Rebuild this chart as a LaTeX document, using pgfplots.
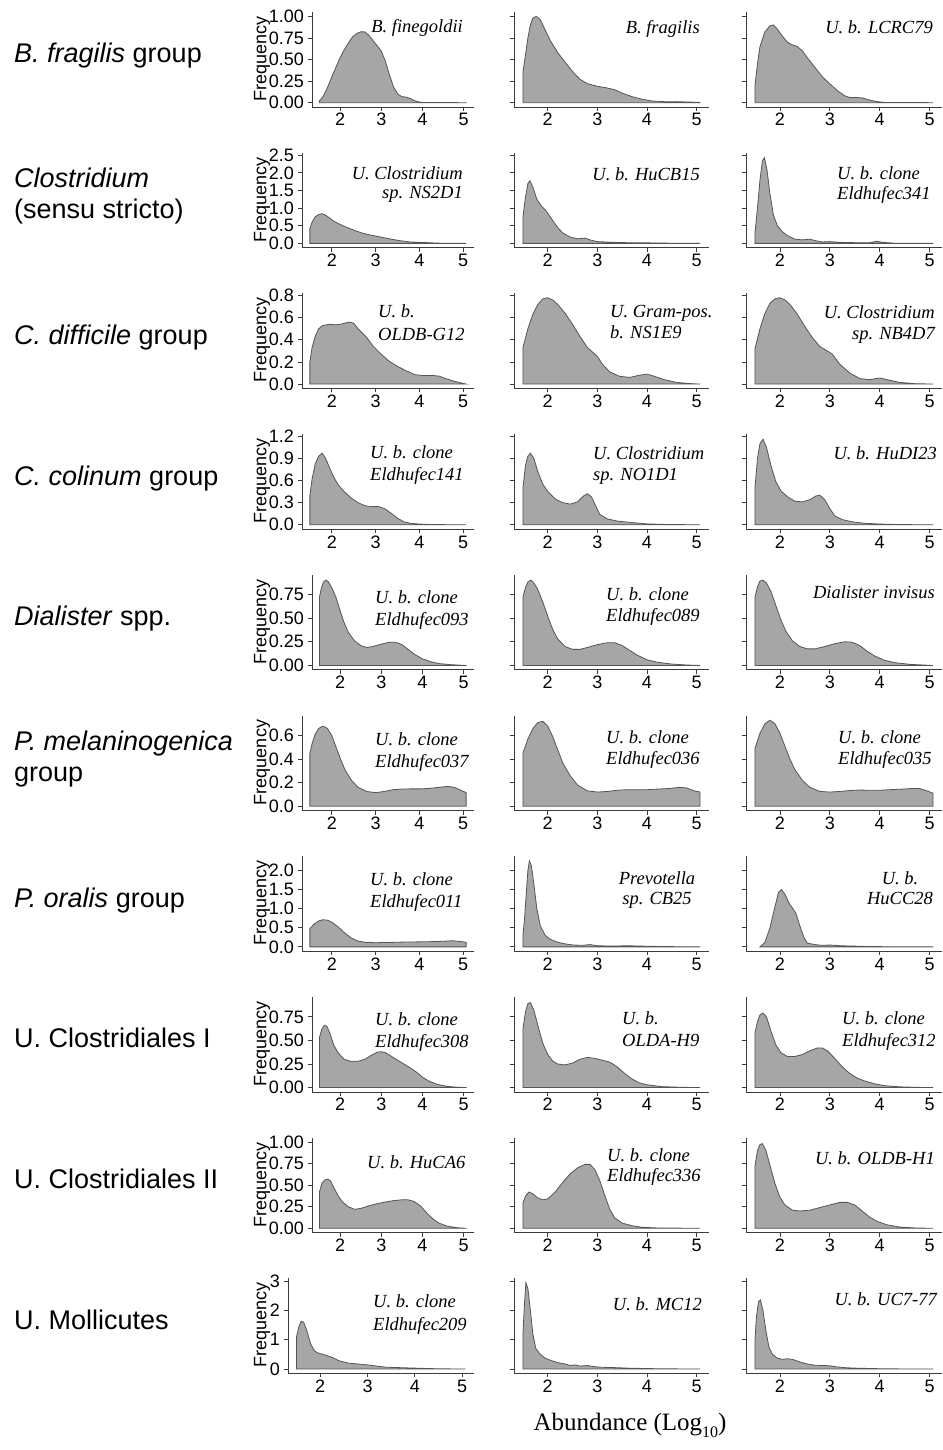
\documentclass[border=0pt]{standalone}
\usepackage{pgfplots}
\pgfplotsset{compat=1.18}
\usepackage{fontspec}
\setmainfont{Liberation Sans}
\newfontfamily\serif{Liberation Serif}
\definecolor{fillc}{RGB}{166,166,166}
\definecolor{linec}{RGB}{85,85,85}
\definecolor{axc}{RGB}{60,60,60}
\newcommand\tickf{\fontsize{18}{18}\selectfont}
\newcommand\titf{\serif\itshape\fontsize{18.5}{18.5}\selectfont}
\newcommand\rowf{\fontsize{27}{27}\selectfont}
\pgfplotsset{
 dens/.style={scale only axis, height=95pt, xmin=1.32, xmax=5.25,
   axis x line=bottom, axis y line=left,
   axis line style={-, line width=0.8pt, draw=axc},
   xtick={2,3,4,5}, tick align=outside, major tick length=4pt,
   tick style={line width=0.8pt, draw=axc},
   tick label style={font=\tickf, inner sep=0pt},
   xticklabel style={anchor=base, yshift=-15pt},
   yticklabel style={anchor=east, xshift=-4pt},
   /pgf/number format/assume math mode=true,
   anchor=south west, clip=false},
 c1/.style={dens},
 c2/.style={dens, at={(514pt,-#1pt)}, width=195pt, yticklabels={}},
 c3/.style={dens, at={(746pt,-#1pt)}, width=196pt, yticklabels={}},
 dplot/.style={fill=fillc, draw=linec, line width=0.8pt},
 r1/.style={ymin=-0.05, ymax=1.05, ytick={0,0.25,0.5,0.75,1}},
 r2/.style={ymin=-0.1225, ymax=2.5725, ytick={0,0.5,1,1.5,2,2.5}},
 r3/.style={ymin=-0.039, ymax=0.819, ytick={0,0.2,0.4,0.6,0.8}},
 r4/.style={ymin=-0.0585, ymax=1.2285, ytick={0,0.3,0.6,0.9,1.2}},
 r5/.style={ymin=-0.0455, ymax=0.9555, ytick={0,0.25,0.5,0.75}},
 r6/.style={ymin=-0.03665, ymax=0.76965, ytick={0,0.2,0.4,0.6}},
 r7/.style={ymin=-0.113, ymax=2.373, ytick={0,0.5,1,1.5,2}},
 r8/.style={ymin=-0.04575, ymax=0.96075, ytick={0,0.25,0.5,0.75}},
 r9/.style={ymin=-0.05, ymax=1.05, ytick={0,0.25,0.5,0.75,1}},
 r10/.style={ymin=-0.1475, ymax=3.0975, ytick={0,1,2,3}},
}
\begin{document}
\begin{tikzpicture}
\useasboundingbox (0,0) rectangle (942pt,-1450pt);
% ---------------- Row 1
\begin{axis}[c1, r1, at={(312pt,-107pt)}, width=162pt, yticklabels={0.00,0.25,0.50,0.75,1.00}]
\addplot[dplot] coordinates {(1.5,0.02)(1.6,0.08)(1.7,0.18)(1.8,0.30)(1.9,0.41)(2.0,0.52)(2.1,0.61)(2.2,0.69)(2.3,0.76)(2.4,0.80)(2.5,0.82)(2.6,0.82)(2.7,0.78)(2.8,0.72)(2.9,0.66)(3.0,0.60)(3.1,0.48)(3.2,0.32)(3.3,0.18)(3.4,0.10)(3.5,0.07)(3.6,0.065)(3.7,0.05)(3.8,0.025)(3.9,0.01)(4.0,0.003)(4.5,0.001)(5.07,0.0)} \closedcycle;
\end{axis}
\begin{axis}[c2=107, r1]
\addplot[dplot] coordinates {(1.5,0.35)(1.55,0.55)(1.6,0.75)(1.65,0.9)(1.7,0.98)(1.77,1.0)(1.85,0.96)(1.95,0.84)(2.05,0.72)(2.2,0.58)(2.35,0.47)(2.5,0.36)(2.65,0.27)(2.8,0.22)(3.0,0.19)(3.2,0.17)(3.35,0.15)(3.5,0.11)(3.7,0.07)(3.9,0.04)(4.1,0.02)(4.4,0.01)(4.6,0.012)(4.8,0.008)(5.07,0.003)} \closedcycle;
\end{axis}
\begin{axis}[c3=107, r1]
\addplot[dplot] coordinates {(1.5,0.2)(1.55,0.45)(1.6,0.65)(1.7,0.82)(1.8,0.89)(1.87,0.9)(1.95,0.85)(2.05,0.77)(2.15,0.7)(2.25,0.67)(2.35,0.65)(2.45,0.6)(2.55,0.52)(2.7,0.41)(2.85,0.3)(3.0,0.22)(3.15,0.14)(3.3,0.08)(3.4,0.06)(3.55,0.06)(3.65,0.055)(3.8,0.03)(3.95,0.012)(4.1,0.003)(5.07,0.0)} \closedcycle;
\end{axis}
% ---------------- Row 2
\begin{axis}[c1, r2, at={(302pt,-247.7pt)}, width=172pt, yticklabels={0.0,0.5,1.0,1.5,2.0,2.5}]
\addplot[dplot] coordinates {(1.5,0.42)(1.55,0.6)(1.62,0.75)(1.7,0.82)(1.78,0.84)(1.86,0.8)(1.95,0.72)(2.05,0.63)(2.2,0.53)(2.35,0.45)(2.5,0.38)(2.65,0.31)(2.8,0.26)(3.0,0.21)(3.2,0.16)(3.4,0.11)(3.6,0.07)(3.8,0.04)(4.0,0.03)(4.2,0.02)(4.4,0.008)(4.6,0.002)(5.07,0.0)} \closedcycle;
\end{axis}
\begin{axis}[c2=247.7, r2]
\addplot[dplot] coordinates {(1.5,0.75)(1.55,1.3)(1.6,1.7)(1.64,1.78)(1.7,1.6)(1.78,1.25)(1.88,1.05)(1.98,0.9)(2.1,0.65)(2.2,0.45)(2.3,0.3)(2.45,0.18)(2.6,0.13)(2.75,0.15)(2.85,0.1)(3.0,0.05)(3.3,0.03)(3.6,0.02)(4.0,0.015)(4.5,0.005)(5.07,0.0)} \closedcycle;
\end{axis}
\begin{axis}[c3=247.7, r2]
\addplot[dplot] coordinates {(1.5,0.3)(1.55,1.0)(1.6,1.8)(1.65,2.35)(1.69,2.43)(1.74,2.1)(1.8,1.4)(1.87,0.8)(1.95,0.5)(2.05,0.33)(2.15,0.22)(2.3,0.12)(2.45,0.1)(2.6,0.12)(2.7,0.08)(2.85,0.04)(3.0,0.05)(3.2,0.03)(3.5,0.02)(3.8,0.02)(3.95,0.06)(4.05,0.03)(4.3,0.005)(5.07,0.0)} \closedcycle;
\end{axis}
% ---------------- Row 3
\begin{axis}[c1, r3, at={(302pt,-388.4pt)}, width=172pt, yticklabels={0.0,0.2,0.4,0.6,0.8}]
\addplot[dplot] coordinates {(1.5,0.2)(1.55,0.33)(1.62,0.43)(1.7,0.5)(1.8,0.53)(1.95,0.54)(2.1,0.535)(2.25,0.545)(2.4,0.56)(2.5,0.55)(2.6,0.5)(2.7,0.46)(2.8,0.42)(2.95,0.34)(3.1,0.28)(3.3,0.21)(3.5,0.16)(3.7,0.12)(3.9,0.085)(4.1,0.077)(4.3,0.078)(4.45,0.072)(4.6,0.05)(4.8,0.025)(5.07,0.0)} \closedcycle;
\end{axis}
\begin{axis}[c2=388.4, r3]
\addplot[dplot] coordinates {(1.5,0.33)(1.6,0.5)(1.7,0.63)(1.8,0.72)(1.9,0.77)(2.0,0.78)(2.1,0.76)(2.2,0.72)(2.35,0.64)(2.5,0.54)(2.65,0.43)(2.8,0.33)(2.9,0.29)(3.0,0.25)(3.1,0.18)(3.25,0.11)(3.45,0.07)(3.65,0.06)(3.85,0.08)(4.0,0.09)(4.15,0.07)(4.35,0.04)(4.6,0.015)(4.85,0.005)(5.07,0.0)} \closedcycle;
\end{axis}
\begin{axis}[c3=388.4, r3]
\addplot[dplot] coordinates {(1.5,0.32)(1.6,0.5)(1.7,0.64)(1.8,0.73)(1.9,0.77)(2.0,0.78)(2.1,0.76)(2.2,0.72)(2.35,0.63)(2.5,0.52)(2.65,0.42)(2.8,0.34)(2.95,0.3)(3.05,0.27)(3.2,0.18)(3.4,0.1)(3.6,0.05)(3.8,0.04)(4.0,0.055)(4.15,0.04)(4.4,0.015)(4.7,0.004)(5.07,0.0)} \closedcycle;
\end{axis}
% ---------------- Row 4
\begin{axis}[c1, r4, at={(302pt,-529.1pt)}, width=172pt, yticklabels={0.0,0.3,0.6,0.9,1.2}]
\addplot[dplot] coordinates {(1.5,0.4)(1.55,0.62)(1.62,0.82)(1.7,0.93)(1.78,0.97)(1.86,0.9)(1.95,0.77)(2.05,0.64)(2.15,0.54)(2.3,0.44)(2.45,0.36)(2.6,0.3)(2.75,0.26)(2.9,0.245)(3.05,0.25)(3.2,0.22)(3.35,0.16)(3.5,0.09)(3.65,0.04)(3.8,0.02)(4.0,0.01)(4.3,0.003)(5.07,0.0)} \closedcycle;
\end{axis}
\begin{axis}[c2=529.1, r4]
\addplot[dplot] coordinates {(1.5,0.5)(1.55,0.8)(1.6,0.93)(1.65,0.97)(1.72,0.9)(1.8,0.72)(1.9,0.55)(2.0,0.45)(2.15,0.35)(2.3,0.3)(2.45,0.28)(2.6,0.31)(2.72,0.39)(2.8,0.42)(2.88,0.38)(2.97,0.25)(3.05,0.14)(3.2,0.08)(3.4,0.05)(3.7,0.03)(4.0,0.012)(4.4,0.004)(5.07,0.0)} \closedcycle;
\end{axis}
\begin{axis}[c3=529.1, r4]
\addplot[dplot] coordinates {(1.5,0.5)(1.55,0.9)(1.6,1.1)(1.66,1.16)(1.73,1.05)(1.82,0.8)(1.92,0.58)(2.02,0.46)(2.15,0.38)(2.3,0.32)(2.45,0.31)(2.6,0.34)(2.72,0.39)(2.8,0.4)(2.9,0.34)(3.0,0.22)(3.1,0.12)(3.25,0.07)(3.45,0.04)(3.7,0.02)(4.0,0.01)(4.4,0.003)(5.07,0.0)} \closedcycle;
\end{axis}
% ---------------- Row 5
\begin{axis}[c1, r5, at={(312pt,-669.8pt)}, width=162pt, yticklabels={0.00,0.25,0.50,0.75}]
\addplot[dplot] coordinates {(1.5,0.72)(1.55,0.82)(1.6,0.88)(1.66,0.9)(1.72,0.88)(1.8,0.82)(1.9,0.72)(2.0,0.58)(2.1,0.45)(2.2,0.35)(2.35,0.26)(2.5,0.21)(2.65,0.19)(2.8,0.2)(3.0,0.225)(3.2,0.245)(3.35,0.245)(3.5,0.22)(3.65,0.17)(3.8,0.12)(4.0,0.07)(4.2,0.04)(4.4,0.02)(4.7,0.008)(5.07,0.0)} \closedcycle;
\end{axis}
\begin{axis}[c2=669.8, r5]
\addplot[dplot] coordinates {(1.5,0.72)(1.55,0.82)(1.6,0.88)(1.66,0.9)(1.72,0.87)(1.8,0.8)(1.9,0.67)(2.0,0.52)(2.1,0.38)(2.2,0.28)(2.35,0.2)(2.5,0.17)(2.65,0.17)(2.8,0.19)(3.0,0.22)(3.2,0.24)(3.35,0.24)(3.5,0.21)(3.65,0.16)(3.8,0.11)(4.0,0.06)(4.2,0.035)(4.5,0.015)(4.8,0.005)(5.07,0.0)} \closedcycle;
\end{axis}
\begin{axis}[c3=669.8, r5]
\addplot[dplot] coordinates {(1.5,0.72)(1.55,0.83)(1.6,0.89)(1.66,0.9)(1.73,0.87)(1.82,0.78)(1.92,0.63)(2.02,0.48)(2.12,0.36)(2.25,0.26)(2.4,0.2)(2.55,0.175)(2.7,0.175)(2.9,0.2)(3.1,0.23)(3.3,0.25)(3.45,0.245)(3.6,0.21)(3.75,0.15)(3.9,0.1)(4.1,0.055)(4.3,0.03)(4.6,0.012)(5.07,0.0)} \closedcycle;
\end{axis}
% ---------------- Row 6
\begin{axis}[c1, r6, at={(302pt,-810.5pt)}, width=172pt, yticklabels={0.0,0.2,0.4,0.6}]
\addplot[dplot] coordinates {(1.5,0.45)(1.55,0.53)(1.62,0.61)(1.7,0.66)(1.8,0.68)(1.9,0.66)(2.0,0.6)(2.1,0.5)(2.2,0.4)(2.3,0.31)(2.45,0.22)(2.6,0.16)(2.8,0.125)(3.0,0.115)(3.2,0.125)(3.4,0.14)(3.6,0.145)(3.8,0.147)(4.0,0.147)(4.2,0.15)(4.45,0.16)(4.65,0.168)(4.8,0.16)(4.95,0.135)(5.07,0.115)} \closedcycle;
\end{axis}
\begin{axis}[c2=810.5, r6]
\addplot[dplot] coordinates {(1.5,0.45)(1.6,0.57)(1.7,0.66)(1.8,0.71)(1.9,0.72)(2.0,0.68)(2.1,0.59)(2.2,0.48)(2.3,0.37)(2.45,0.26)(2.6,0.18)(2.8,0.13)(3.0,0.12)(3.2,0.125)(3.4,0.135)(3.6,0.14)(3.8,0.14)(4.0,0.14)(4.2,0.145)(4.45,0.15)(4.65,0.16)(4.8,0.155)(4.95,0.13)(5.07,0.12)} \closedcycle;
\end{axis}
\begin{axis}[c3=810.5, r6]
\addplot[dplot] coordinates {(1.5,0.49)(1.6,0.62)(1.7,0.7)(1.8,0.73)(1.9,0.7)(2.0,0.62)(2.1,0.51)(2.2,0.4)(2.3,0.31)(2.45,0.22)(2.6,0.16)(2.8,0.125)(3.0,0.12)(3.2,0.125)(3.4,0.133)(3.6,0.137)(3.8,0.135)(4.0,0.135)(4.2,0.14)(4.45,0.145)(4.65,0.15)(4.8,0.15)(4.95,0.13)(5.07,0.11)} \closedcycle;
\end{axis}
% ---------------- Row 7
\begin{axis}[c1, r7, at={(302pt,-951.2pt)}, width=172pt, yticklabels={0.0,0.5,1.0,1.5,2.0}]
\addplot[dplot] coordinates {(1.5,0.48)(1.6,0.6)(1.7,0.68)(1.8,0.71)(1.9,0.7)(2.0,0.65)(2.15,0.52)(2.3,0.36)(2.45,0.23)(2.6,0.15)(2.8,0.115)(3.0,0.11)(3.3,0.115)(3.6,0.125)(3.9,0.13)(4.2,0.135)(4.5,0.145)(4.75,0.16)(4.95,0.14)(5.07,0.12)} \closedcycle;
\end{axis}
\begin{axis}[c2=951.2, r7]
\addplot[dplot] coordinates {(1.5,0.3)(1.53,0.7)(1.57,1.45)(1.6,2.0)(1.63,2.25)(1.67,2.12)(1.72,1.65)(1.78,1.0)(1.85,0.55)(1.95,0.3)(2.05,0.2)(2.2,0.12)(2.35,0.08)(2.5,0.05)(2.7,0.04)(2.85,0.06)(3.0,0.03)(3.3,0.02)(3.6,0.03)(3.9,0.02)(4.3,0.01)(4.7,0.004)(5.07,0.0)} \closedcycle;
\end{axis}
\begin{axis}[c3=951.2, r7]
\addplot[dplot] coordinates {(1.6,0.0)(1.7,0.12)(1.8,0.5)(1.9,1.05)(1.97,1.42)(2.03,1.5)(2.1,1.38)(2.18,1.15)(2.25,1.02)(2.32,0.88)(2.4,0.55)(2.48,0.25)(2.55,0.1)(2.7,0.06)(2.85,0.04)(3.0,0.05)(3.2,0.03)(3.5,0.02)(3.8,0.01)(4.2,0.004)(5.07,0.0)} \closedcycle;
\end{axis}
% ---------------- Row 8
\begin{axis}[c1, r8, at={(312pt,-1091.9pt)}, width=162pt, yticklabels={0.00,0.25,0.50,0.75}]
\addplot[dplot] coordinates {(1.5,0.53)(1.56,0.62)(1.62,0.66)(1.68,0.65)(1.75,0.58)(1.85,0.45)(1.95,0.37)(2.1,0.3)(2.25,0.28)(2.45,0.28)(2.6,0.3)(2.75,0.34)(2.9,0.375)(3.0,0.38)(3.1,0.37)(3.25,0.33)(3.4,0.29)(3.55,0.25)(3.7,0.21)(3.85,0.165)(4.0,0.11)(4.15,0.07)(4.35,0.035)(4.6,0.012)(4.85,0.004)(5.07,0.0)} \closedcycle;
\end{axis}
\begin{axis}[c2=1091.9, r8]
\addplot[dplot] coordinates {(1.5,0.62)(1.55,0.8)(1.6,0.89)(1.65,0.9)(1.72,0.82)(1.8,0.66)(1.9,0.47)(2.0,0.35)(2.1,0.28)(2.2,0.25)(2.35,0.24)(2.5,0.26)(2.65,0.3)(2.8,0.32)(2.95,0.31)(3.1,0.29)(3.25,0.27)(3.4,0.22)(3.55,0.15)(3.7,0.09)(3.85,0.05)(4.0,0.03)(4.3,0.01)(4.7,0.003)(5.07,0.0)} \closedcycle;
\end{axis}
\begin{axis}[c3=1091.9, r8]
\addplot[dplot] coordinates {(1.5,0.58)(1.55,0.7)(1.6,0.77)(1.66,0.79)(1.73,0.75)(1.82,0.6)(1.92,0.45)(2.02,0.37)(2.15,0.33)(2.3,0.33)(2.45,0.35)(2.6,0.39)(2.75,0.42)(2.85,0.42)(2.95,0.39)(3.1,0.31)(3.25,0.22)(3.4,0.15)(3.55,0.1)(3.7,0.07)(3.9,0.04)(4.1,0.02)(4.4,0.008)(4.8,0.002)(5.07,0.0)} \closedcycle;
\end{axis}
% ---------------- Row 9
\begin{axis}[c1, r9, at={(312pt,-1232.6pt)}, width=162pt, yticklabels={0.00,0.25,0.50,0.75,1.00}]
\addplot[dplot] coordinates {(1.5,0.42)(1.56,0.52)(1.63,0.56)(1.7,0.57)(1.77,0.55)(1.85,0.47)(1.95,0.38)(2.05,0.31)(2.2,0.25)(2.35,0.22)(2.5,0.23)(2.7,0.26)(2.9,0.285)(3.1,0.305)(3.3,0.32)(3.5,0.33)(3.65,0.33)(3.8,0.31)(3.95,0.26)(4.1,0.18)(4.25,0.11)(4.4,0.06)(4.6,0.025)(4.85,0.006)(5.07,0.0)} \closedcycle;
\end{axis}
\begin{axis}[c2=1232.6, r9]
\addplot[dplot] coordinates {(1.5,0.3)(1.56,0.38)(1.62,0.42)(1.7,0.4)(1.8,0.35)(1.9,0.33)(2.0,0.34)(2.15,0.42)(2.3,0.53)(2.45,0.63)(2.6,0.7)(2.75,0.74)(2.85,0.74)(2.95,0.68)(3.05,0.55)(3.15,0.38)(3.25,0.22)(3.35,0.12)(3.5,0.06)(3.7,0.03)(3.9,0.012)(4.2,0.004)(5.07,0.0)} \closedcycle;
\end{axis}
\begin{axis}[c3=1232.6, r9]
\addplot[dplot] coordinates {(1.5,0.72)(1.55,0.9)(1.6,0.97)(1.65,0.98)(1.72,0.9)(1.8,0.73)(1.9,0.52)(2.0,0.36)(2.1,0.27)(2.25,0.21)(2.4,0.2)(2.6,0.21)(2.8,0.24)(3.0,0.27)(3.2,0.3)(3.35,0.3)(3.5,0.27)(3.65,0.2)(3.8,0.13)(3.95,0.08)(4.15,0.04)(4.4,0.015)(4.7,0.004)(5.07,0.0)} \closedcycle;
\end{axis}
% ---------------- Row 10
\begin{axis}[c1, r10, at={(288pt,-1373.3pt)}, width=186pt, yticklabels={0,1,2,3}]
\addplot[dplot] coordinates {(1.5,1.1)(1.55,1.45)(1.6,1.63)(1.65,1.6)(1.72,1.3)(1.8,0.85)(1.88,0.62)(1.95,0.55)(2.1,0.48)(2.25,0.4)(2.4,0.28)(2.6,0.2)(2.8,0.17)(3.0,0.14)(3.2,0.1)(3.4,0.06)(3.6,0.05)(3.8,0.04)(4.0,0.03)(4.3,0.015)(4.6,0.005)(5.07,0.0)} \closedcycle;
\end{axis}
\begin{axis}[c2=1373.3, r10]
\addplot[dplot] coordinates {(1.5,1.2)(1.53,2.2)(1.56,2.95)(1.6,2.75)(1.65,2.0)(1.7,1.2)(1.76,0.7)(1.85,0.5)(1.95,0.37)(2.05,0.3)(2.2,0.22)(2.35,0.17)(2.45,0.12)(2.55,0.14)(2.65,0.1)(2.8,0.12)(2.9,0.09)(3.05,0.06)(3.3,0.05)(3.6,0.03)(4.0,0.015)(4.4,0.005)(5.07,0.0)} \closedcycle;
\end{axis}
\begin{axis}[c3=1373.3, r10]
\addplot[dplot] coordinates {(1.5,1.0)(1.53,1.8)(1.57,2.3)(1.61,2.36)(1.66,2.0)(1.72,1.3)(1.78,0.75)(1.85,0.5)(1.95,0.37)(2.05,0.33)(2.15,0.35)(2.25,0.33)(2.4,0.24)(2.55,0.17)(2.7,0.13)(2.85,0.12)(3.0,0.11)(3.15,0.07)(3.35,0.04)(3.6,0.025)(4.0,0.01)(4.4,0.003)(5.07,0.0)} \closedcycle;
\end{axis}
% ---------------- Frequency labels
\foreach \yy in {59,199.7,340.4,481.1,621.8,762.5,903.2,1043.9,1184.6,1325.3}{
  \node[rotate=90, font=\tickf, inner sep=0pt] at (262pt,-\yy pt) {Frequency};
}
% ---------------- Row labels
\begin{scope}[every node/.style={anchor=base west, font=\rowf, inner sep=0pt}]
\node at (14pt,-63pt) {\textit{B. fragilis} group};
\node at (14pt,-187.7pt) {\textit{Clostridium}};
\node at (14pt,-218.2pt) {(sensu stricto)};
\node at (14pt,-344.4pt) {\textit{C. difficile} group};
\node at (14pt,-485.1pt) {\textit{C. colinum} group};
\node at (14pt,-625.8pt) {\textit{Dialister} spp.};
\node at (14pt,-750.5pt) {\textit{P. melaninogenica}};
\node at (14pt,-781pt) {group};
\node at (14pt,-907.2pt) {\textit{P. oralis} group};
\node at (14pt,-1047.9pt) {U. Clostridiales I};
\node at (14pt,-1188.6pt) {U. Clostridiales II};
\node at (14pt,-1329.3pt) {U. Mollicutes};
\end{scope}
% ---------------- Panel titles
\begin{scope}[every node/.style={font=\titf, inner sep=0pt}]
\node[anchor=base east] at (463pt,-33pt) {B. finegoldii};
\node[anchor=base east] at (700pt,-34pt) {B. fragilis};
\node[anchor=base east] at (933pt,-34pt) {U. b. LCRC79};
\node[anchor=base east] at (463pt,-179pt) {U. Clostridium};
\node[anchor=base east] at (463pt,-199pt) {sp. NS2D1};
\node[anchor=base east] at (700pt,-181pt) {U. b. HuCB15};
\node[anchor=base west] at (837pt,-180pt) {U. b. clone};
\node[anchor=base west] at (837pt,-200pt) {Eldhufec341};
\node[anchor=base west] at (378pt,-317pt) {U. b.};
\node[anchor=base west] at (378pt,-340pt) {OLDB-G12};
\node[anchor=base west] at (610pt,-317pt) {U. Gram-pos.};
\node[anchor=base west] at (610pt,-338pt) {b. NS1E9};
\node[anchor=base east] at (935pt,-318pt) {U. Clostridium};
\node[anchor=base east] at (935pt,-339pt) {sp. NB4D7};
\node[anchor=base west] at (370pt,-458pt) {U. b. clone};
\node[anchor=base west] at (370pt,-480pt) {Eldhufec141};
\node[anchor=base west] at (593pt,-459pt) {U. Clostridium};
\node[anchor=base west] at (593pt,-480pt) {sp. NO1D1};
\node[anchor=base east] at (937pt,-459pt) {U. b. HuDI23};
\node[anchor=base west] at (375pt,-603pt) {U. b. clone};
\node[anchor=base west] at (375pt,-625pt) {Eldhufec093};
\node[anchor=base west] at (606pt,-600pt) {U. b. clone};
\node[anchor=base west] at (606pt,-621pt) {Eldhufec089};
\node[anchor=base east] at (935pt,-598pt) {Dialister invisus};
\node[anchor=base west] at (375pt,-745pt) {U. b. clone};
\node[anchor=base west] at (375pt,-767pt) {Eldhufec037};
\node[anchor=base west] at (606pt,-743pt) {U. b. clone};
\node[anchor=base west] at (606pt,-764pt) {Eldhufec036};
\node[anchor=base west] at (838pt,-743pt) {U. b. clone};
\node[anchor=base west] at (838pt,-764pt) {Eldhufec035};
\node[anchor=base west] at (370pt,-885pt) {U. b. clone};
\node[anchor=base west] at (370pt,-907pt) {Eldhufec011};
\node[anchor=base] at (657pt,-884pt) {Prevotella};
\node[anchor=base] at (657pt,-904pt) {sp. CB25};
\node[anchor=base] at (900pt,-884pt) {U. b.};
\node[anchor=base] at (900pt,-904pt) {HuCC28};
\node[anchor=base west] at (375pt,-1025pt) {U. b. clone};
\node[anchor=base west] at (375pt,-1047pt) {Eldhufec308};
\node[anchor=base west] at (622pt,-1024pt) {U. b.};
\node[anchor=base west] at (622pt,-1046pt) {OLDA-H9};
\node[anchor=base west] at (842pt,-1024pt) {U. b. clone};
\node[anchor=base west] at (842pt,-1046pt) {Eldhufec312};
\node[anchor=base west] at (367pt,-1168pt) {U. b. HuCA6};
\node[anchor=base west] at (607pt,-1161pt) {U. b. clone};
\node[anchor=base west] at (607pt,-1181pt) {Eldhufec336};
\node[anchor=base east] at (935pt,-1164pt) {U. b. OLDB-H1};
\node[anchor=base west] at (373pt,-1307pt) {U. b. clone};
\node[anchor=base west] at (373pt,-1330pt) {Eldhufec209};
\node[anchor=base east] at (702pt,-1310pt) {U. b. MC12};
\node[anchor=base east] at (937pt,-1305pt) {U. b. UC7-77};
\end{scope}
\node[anchor=base, font=\serif\fontsize{25}{25}\selectfont, inner sep=0pt] at (630pt,-1430pt) {Abundance (Log\raisebox{-0.3em}{\fontsize{16}{16}\selectfont 10})};
\end{tikzpicture}
\end{document}
